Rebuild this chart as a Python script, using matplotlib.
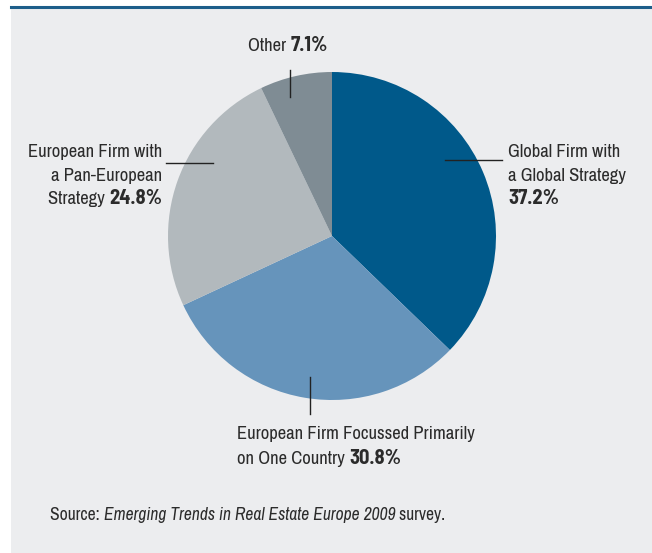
import matplotlib
matplotlib.use("Agg")
import matplotlib.pyplot as plt
from matplotlib.patches import Rectangle

# data
labels = ["Global Firm with a Global Strategy",
          "European Firm Focussed Primarily on One Country",
          "European Firm with a Pan-European Strategy",
          "Other"]
shares = [37.2, 30.8, 24.8, 7.1]
colors = ["#00598a", "#6694bb", "#b2b9bd", "#7f8c94"]

REG = ['Archivo Narrow', 'DejaVu Sans']
BOLD = ['Barlow Semi Condensed', 'DejaVu Sans']
plt.rcParams['font.family'] = REG

W, H = 652, 553
fig = plt.figure(figsize=(W / 100, H / 100), dpi=100)
ax = fig.add_axes([0, 0, 1, 1])
ax.axis('off')

# panel background and top rule
ax.add_patch(Rectangle((11, 0), W - 11, H - 7, facecolor="#ecedef", edgecolor="none", zorder=0))
ax.plot([11, W], [H - 7, H - 7], color="#1d5e8a", lw=2.2, zorder=1)

cx, cy, r = 332, H - 236, 164
ax.pie(shares, colors=colors, startangle=90, counterclock=False,
       center=(cx, cy), radius=r, wedgeprops=dict(linewidth=0))
ax.set_xlim(0, W)
ax.set_ylim(0, H)
ax.set_aspect('equal')

txt = "#2b2b2b"
fig.canvas.draw()
renderer = fig.canvas.get_renderer()


def width_of(s, size, **kw):
    t = ax.text(0, 0, s, fontsize=size, **kw)
    w = t.get_window_extent(renderer).width
    t.remove()
    return w


# size the text so that it spans as wide as in the reference
fs = 12 * 112 / width_of("Global Firm with", 12)
fs_src = 11 * 396 / (width_of("Source: ", 11) + width_of("Emerging Trends in Real Estate Europe 2009", 11, style="italic")
                     + width_of(" survey.", 11))


def line(x, y, parts, ha="left"):
    # parts: list of (string, bold?) drawn one after another on one line
    items = []
    for s, b in parts:
        t = ax.text(0, 0, s, fontsize=fs * (1.1 if b else 1), color=txt, va="baseline",
                    family=BOLD if b else REG, fontweight=700 if b else "normal")
        items.append(t)
    widths = [t.get_window_extent(renderer).width for t in items]
    total = sum(widths)
    x0 = x - total if ha == "right" else x
    for t, w in zip(items, widths):
        t.set_position((x0, y))
        x0 += w


# Global
line(508, H - 157, [("Global Firm with", False)])
line(508, H - 181, [("a Global Strategy", False)])
line(508, H - 204, [(f"{shares[0]}%", True)])
ax.plot([445, 502], [H - 160, H - 160], color="#222222", lw=1)

# Pan-European
line(162, H - 157, [("European Firm with", False)], ha="right")
line(162, H - 181, [("a Pan-European", False)], ha="right")
line(162, H - 204, [("Strategy ", False), (f"{shares[2]}%", True)], ha="right")
ax.plot([166, 213], [H - 163, H - 163], color="#222222", lw=1)

# Other
line(248, H - 51, [("Other ", False), (f"{shares[3]}%", True)])
ax.plot([290, 290], [H - 70, H - 97], color="#222222", lw=1)

# One country
line(237, H - 439, [("European Firm Focussed Primarily", False)])
line(237, H - 464, [("on One Country ", False), (f"{shares[1]}%", True)])
ax.plot([310, 310], [H - 377, H - 414], color="#222222", lw=1)

# source
src = [("Source: ", "normal"), ("Emerging Trends in Real Estate Europe 2009", "italic"), (" survey.", "normal")]
x0 = 50
for s, st in src:
    t = ax.text(x0, H - 520, s, fontsize=fs_src, color=txt, va="baseline", style=st)
    x0 += t.get_window_extent(renderer).width

fig.savefig("out.png", dpi=100)
